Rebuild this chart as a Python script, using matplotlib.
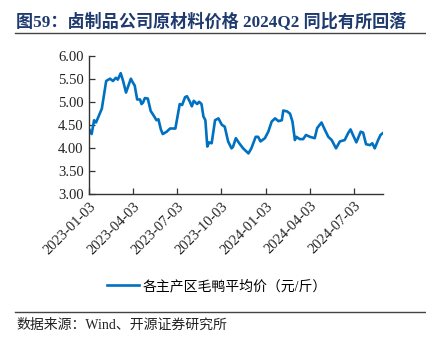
import matplotlib
matplotlib.use('Agg')
import matplotlib.pyplot as plt
import matplotlib.dates as mdates
import pandas as pd

# 各主产区毛鸭平均价（元/斤）
dates = [
    '2023-01-03', '2023-01-08', '2023-01-13', '2023-01-17', '2023-01-21', '2023-01-29',
    '2023-02-07', '2023-02-15', '2023-02-21', '2023-02-27', '2023-03-03', '2023-03-09',
    '2023-03-14', '2023-03-20', '2023-03-25', '2023-03-30', '2023-04-03', '2023-04-07',
    '2023-04-12', '2023-04-18', '2023-04-21', '2023-04-24', '2023-04-28', '2023-05-04',
    '2023-05-10', '2023-05-15', '2023-05-22', '2023-05-26', '2023-05-31', '2023-06-04',
    '2023-06-12', '2023-06-19', '2023-06-25', '2023-06-30', '2023-07-09', '2023-07-14',
    '2023-07-20', '2023-07-24', '2023-07-30', '2023-08-03', '2023-08-07', '2023-08-14',
    '2023-08-18', '2023-08-23', '2023-08-27', '2023-08-31', '2023-09-04', '2023-09-08',
    '2023-09-13', '2023-09-20', '2023-09-27', '2023-10-04', '2023-10-10', '2023-10-17',
    '2023-10-24', '2023-10-27', '2023-11-02', '2023-11-09', '2023-11-17', '2023-11-28',
    '2023-12-04', '2023-12-13', '2023-12-18', '2023-12-23', '2024-01-01', '2024-01-08',
    '2024-01-15', '2024-01-22', '2024-01-29', '2024-02-05', '2024-02-08', '2024-02-16',
    '2024-02-22', '2024-02-27', '2024-03-03', '2024-03-06', '2024-03-13', '2024-03-20',
    '2024-03-26', '2024-04-03', '2024-04-13', '2024-04-18', '2024-04-27', '2024-05-04',
    '2024-05-11', '2024-05-18', '2024-05-27', '2024-06-04', '2024-06-14', '2024-06-21',
    '2024-06-26', '2024-07-01', '2024-07-08', '2024-07-17', '2024-07-22', '2024-07-28',
    '2024-08-05', '2024-08-10', '2024-08-15', '2024-08-22', '2024-08-27', '2024-09-02',
]
prices = [
    4.40, 4.30, 4.60, 4.55, 4.65, 4.85,
    5.45, 5.50, 5.45, 5.52, 5.48, 5.62,
    5.45, 5.20, 5.35, 5.50, 5.42, 5.35,
    5.05, 5.05, 4.95, 4.98, 5.08, 5.07,
    4.80, 4.72, 4.60, 4.62, 4.40, 4.30,
    4.35, 4.42, 4.42, 4.42, 4.95, 4.93,
    5.10, 5.12, 5.00, 4.90, 5.02, 4.95,
    5.00, 4.95, 4.68, 4.60, 4.03, 4.12,
    4.10, 4.60, 4.64, 4.50, 4.46, 4.14,
    3.99, 4.02, 4.21, 4.10, 3.99, 3.88,
    3.99, 4.24, 4.24, 4.14, 4.21, 4.35,
    4.57, 4.64, 4.58, 4.60, 4.81, 4.79,
    4.74, 4.57, 4.17, 4.24, 4.19, 4.19,
    4.28, 4.24, 4.21, 4.43, 4.55, 4.39,
    4.24, 4.17, 3.99, 4.14, 4.17, 4.32,
    4.40, 4.28, 4.12, 4.35, 4.33, 4.08,
    4.06, 4.10, 3.99, 4.17, 4.28, 4.33,
]
xticks = ['2023-01-03', '2023-04-03', '2023-07-03', '2023-10-03',
          '2024-01-03', '2024-04-03', '2024-07-03']
yticks = [3.00, 3.50, 4.00, 4.50, 5.00, 5.50, 6.00]

serif_cjk = ['Liberation Serif', 'Noto Sans CJK SC']
plt.rcParams['font.family'] = serif_cjk
plt.rcParams['axes.unicode_minus'] = False

x = pd.to_datetime(dates)
fig = plt.figure(figsize=(4.27, 3.45), dpi=100)
ax = fig.add_axes([0.209, 0.4377, 0.689, 0.401])

ax.plot(x, prices, color='#0070C0', lw=1.9, label='各主产区毛鸭平均价（元/斤）')

ax.set_ylim(3, 6)
ax.set_yticks(yticks)
ax.set_yticklabels([f'{v:.2f}' for v in yticks])
ax.set_xlim(x[0], x[-1])
ax.set_xticks(pd.to_datetime(xticks))
ax.xaxis.set_major_formatter(mdates.DateFormatter('%Y-%m-%d'))
plt.setp(ax.get_xticklabels(), rotation=45, ha='right', rotation_mode='anchor')

for s in ['top', 'right']:
    ax.spines[s].set_visible(False)
for s in ['left', 'bottom']:
    ax.spines[s].set_color('#333333')
    ax.spines[s].set_linewidth(1.0)
ax.tick_params(direction='in', length=4, width=0.9, color='#333333',
               labelsize=10.5, labelcolor='#222222', pad=4)

leg = fig.legend(loc='center', bbox_to_anchor=(0.508, 0.171), frameon=False,
                 fontsize=10, handlelength=2.3, handletextpad=0.3)

# 标题和来源
fig.text(0.038, 0.936, '图59：卤制品公司原材料价格 2024Q2 同比有所回落',
         fontsize=12.3, fontweight='bold', color='#1F3A6E', va='center', ha='left')
fig.add_artist(plt.Line2D([0.035, 1.0], [0.904, 0.904], color='#444444', lw=1.0))
fig.add_artist(plt.Line2D([0.035, 1.0], [0.096, 0.096], color='#444444', lw=1.0))
fig.text(0.038, 0.058, '数据来源：Wind、开源证券研究所', fontsize=10,
         color='#222222', va='center', ha='left')

fig.savefig('out.png', dpi=100)
